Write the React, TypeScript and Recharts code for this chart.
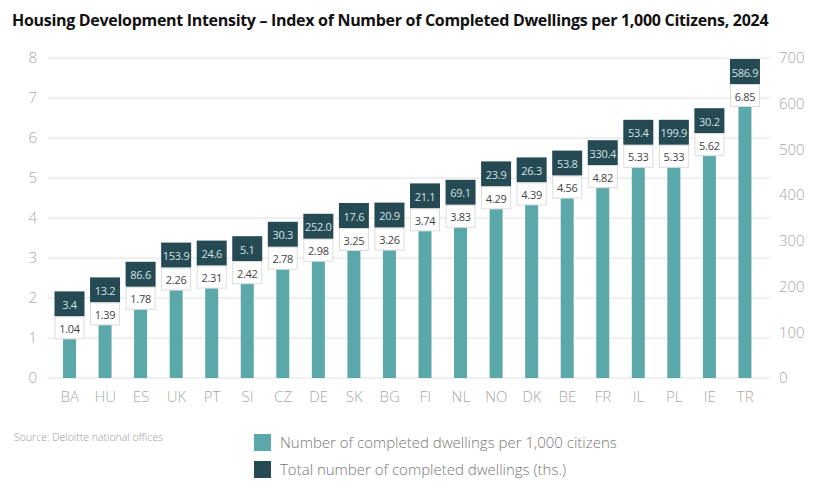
import React from "react";
import { ComposedChart, Bar, Line, XAxis, YAxis, CartesianGrid, LabelList } from "recharts";

const countries = ["BA", "HU", "ES", "UK", "PT", "SI", "CZ", "DE", "SK", "BG", "FI", "NL", "NO", "DK", "BE", "FR", "IL", "PL", "IE", "TR"];
const perThousand = [1.04, 1.39, 1.78, 2.26, 2.31, 2.42, 2.78, 2.98, 3.25, 3.26, 3.74, 3.83, 4.29, 4.39, 4.56, 4.82, 5.33, 5.33, 5.62, 6.85];
const totals = [3.4, 13.2, 86.6, 153.9, 24.6, 5.1, 30.3, 252.0, 17.6, 20.9, 21.1, 69.1, 23.9, 26.3, 53.8, 330.4, 53.4, 199.9, 30.2, 586.9];
const leftTicks = [0, 1, 2, 3, 4, 5, 6, 7, 8];
const rightTicks = [0, 100, 200, 300, 400, 500, 600, 700];

const data = countries.map((c, i) => ({ country: c, perThousand: perThousand[i], total: totals[i] }));

const TEAL = "#5aa8aa";
const DARK = "#254a54";
const FONT = "'Open Sans', sans-serif";

// white box = index value, dark box above = total dwellings (ths.)
function renderLabel(props: any) {
  const { x, y, width, value, index } = props;
  const cx = x + width / 2;
  const w = 30;
  const whiteTop = y - 20;
  const darkTop = y - 45;
  return (
    <g>
      <rect x={cx - w / 2} y={darkTop} width={w} height={25} fill={DARK} />
      <text x={cx} y={darkTop + 13} textAnchor="middle" dominantBaseline="central" fontSize={11} letterSpacing={-0.3} fill="#cfe2e3" fontFamily={FONT}>
        {totals[index].toFixed(1)}
      </text>
      <rect x={cx - w / 2 + 0.5} y={whiteTop + 0.5} width={w - 1} height={22} fill="#fff" stroke="#dcdcdc" />
      <text x={cx} y={whiteTop + 12} textAnchor="middle" dominantBaseline="central" fontSize={11} letterSpacing={-0.3} fill="#444" fontFamily={FONT}>
        {value}
      </text>
    </g>
  );
}

const tickStyle = { fill: "#a8a8a8", fontSize: 15, fontFamily: FONT, fontWeight: 300 };

export default function App() {
  return (
    <div style={{ position: "absolute", left: 0, top: 0, width: 825, height: 494, background: "#fff", fontFamily: FONT }}>
      <div style={{ position: "absolute", left: 12, top: 9, fontSize: 16, letterSpacing: -0.3, fontWeight: 700, color: "#111", whiteSpace: "nowrap" }}>
        Housing Development Intensity – Index of Number of Completed Dwellings per 1,000 Citizens, 2024
      </div>
      <ComposedChart width={825} height={494} data={data} margin={{ top: 58, right: 0, bottom: 86, left: 0 }}>
        <CartesianGrid vertical={false} stroke="#e0e0e0" yAxisId="left" />
        <XAxis
          dataKey="country"
          axisLine={false}
          tickLine={false}
          tickSize={0}
          tickMargin={13}
          height={30}
          interval={0}
          padding={{ left: 4, right: 7 }}
          tick={tickStyle}
        />
        <YAxis yAxisId="left" domain={[0, 8]} ticks={leftTicks} width={48} axisLine={false} tickLine={false} tickSize={0} tickMargin={11} tick={tickStyle} />
        <YAxis yAxisId="right" orientation="right" domain={[0, 700]} ticks={rightTicks} width={55} axisLine={false} tickLine={false} tickSize={0} tickMargin={9} tick={{ ...tickStyle, textAnchor: "start" }} />
        <Bar yAxisId="left" dataKey="perThousand" fill={TEAL} barSize={13} isAnimationActive={false}>
          <LabelList dataKey="perThousand" content={renderLabel} />
        </Bar>
        <Line yAxisId="right" dataKey="total" stroke="none" dot={false} activeDot={false} isAnimationActive={false} />
      </ComposedChart>
      <div style={{ position: "absolute", left: 14, top: 430, fontSize: 10.5, color: "#999", fontWeight: 300 }}>
        Source: Deloitte national offices
      </div>
      <div style={{ position: "absolute", left: 254, top: 432, fontSize: 15, color: "#777", fontWeight: 300 }}>
        <div style={{ display: "flex", alignItems: "center", height: 20, marginBottom: 7 }}>
          <span style={{ width: 17, height: 17, background: TEAL, marginRight: 9, display: "inline-block" }} />
          Number of completed dwellings per 1,000 citizens
        </div>
        <div style={{ display: "flex", alignItems: "center", height: 20 }}>
          <span style={{ width: 17, height: 17, background: DARK, marginRight: 9, display: "inline-block" }} />
          Total number of completed dwellings (ths.)
        </div>
      </div>
    </div>
  );
}
